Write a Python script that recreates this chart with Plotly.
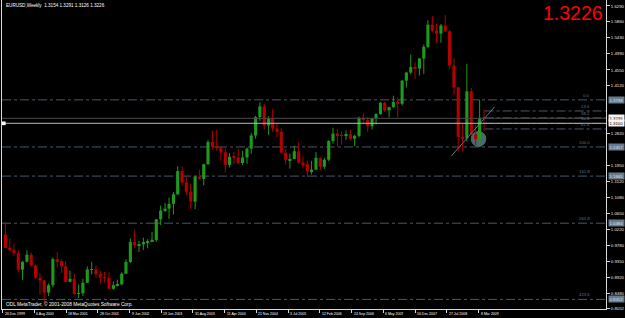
import plotly.graph_objects as go

# ---------------- data (monthly OHLC) ----------------
opens = [
    1.0073, 0.9710, 0.9650, 0.9572, 0.9120, 0.9335, 0.9525, 0.9235, 0.8900, 0.8830, 0.8500, 0.8700,
    0.9405, 0.9352, 0.9210, 0.8790, 0.8870, 0.8463, 0.8480, 0.8765, 0.9125, 0.9125, 0.9000, 0.8910,
    0.8900, 0.8600, 0.8700, 0.8720, 0.9010, 0.9330, 0.9870, 0.9790, 0.9810, 0.9870, 0.9880, 0.9930,
    1.0490, 1.0730, 1.0780, 1.0910, 1.1170, 1.1800, 1.1490, 1.1240, 1.0970, 1.1650, 1.1590, 1.1990,
    1.2590, 1.2460, 1.2440, 1.2310, 1.1970, 1.2190, 1.2170, 1.2020, 1.2170, 1.2410, 1.2770, 1.3270,
    1.3560, 1.3040, 1.3240, 1.2960, 1.2870, 1.2300, 1.2100, 1.2130, 1.2340, 1.2030, 1.1990, 1.1800,
    1.1840, 1.2160, 1.1920, 1.2110, 1.2620, 1.2820, 1.2780, 1.2760, 1.2800, 1.2680, 1.2760, 1.3250,
    1.3190, 1.3020, 1.3230, 1.3350, 1.3660, 1.3450, 1.3540, 1.3680, 1.3630, 1.4260, 1.4480, 1.4630,
    1.4590, 1.4860, 1.5180, 1.5780, 1.5620, 1.5540, 1.5760, 1.5600, 1.4670, 1.4080, 1.2730, 1.2690,
    1.3970, 1.2800, 1.2670, 1.3250,
]
highs = [
    1.0414, 0.9956, 0.9815, 0.9650, 0.9352, 0.9650, 0.9585, 0.9260, 0.9018, 0.8830, 0.8745, 0.9455,
    0.9593, 0.9400, 0.9355, 0.9094, 0.9009, 0.8720, 0.8873, 0.9210, 0.9330, 0.9230, 0.9090, 0.9060,
    0.9050, 0.8800, 0.8850, 0.9050, 0.9400, 0.9970, 1.0190, 0.9900, 0.9990, 0.9950, 1.0150, 1.0500,
    1.0860, 1.0930, 1.1080, 1.1230, 1.1930, 1.1930, 1.1650, 1.1450, 1.1680, 1.1840, 1.2000, 1.2650,
    1.2900, 1.2930, 1.2460, 1.2420, 1.2290, 1.2320, 1.2410, 1.2350, 1.2440, 1.2840, 1.3300, 1.3670,
    1.3620, 1.3290, 1.3480, 1.3100, 1.2970, 1.2400, 1.2270, 1.2490, 1.2590, 1.2200, 1.2090, 1.2080,
    1.2320, 1.2170, 1.2160, 1.2640, 1.2980, 1.2950, 1.2880, 1.2910, 1.2930, 1.2790, 1.3280, 1.3370,
    1.3270, 1.3250, 1.3380, 1.3680, 1.3690, 1.3550, 1.3850, 1.3800, 1.4280, 1.4500, 1.4970, 1.4760,
    1.4880, 1.5240, 1.5900, 1.6020, 1.5810, 1.5800, 1.6040, 1.5630, 1.4870, 1.4080, 1.3080, 1.4720,
    1.4060, 1.3050, 1.3740, 1.3480,
]
lows = [
    0.9704, 0.9610, 0.9494, 0.9050, 0.8844, 0.9320, 0.9200, 0.8868, 0.8444, 0.8228, 0.8400, 0.8640,
    0.9182, 0.9034, 0.8768, 0.8780, 0.8440, 0.8350, 0.8405, 0.8760, 0.8990, 0.8900, 0.8750, 0.8770,
    0.8580, 0.8570, 0.8660, 0.8700, 0.9000, 0.9300, 0.9720, 0.9600, 0.9660, 0.9700, 0.9870, 0.9880,
    1.0330, 1.0690, 1.0500, 1.0620, 1.1150, 1.1410, 1.1140, 1.0760, 1.0770, 1.1580, 1.1410, 1.1970,
    1.2380, 1.2360, 1.2080, 1.1760, 1.1900, 1.1990, 1.1990, 1.1960, 1.2000, 1.2270, 1.2680, 1.3170,
    1.2930, 1.2780, 1.2870, 1.2720, 1.2300, 1.1980, 1.1870, 1.2140, 1.1990, 1.1910, 1.1640, 1.1710,
    1.1820, 1.1830, 1.1860, 1.2070, 1.2550, 1.2460, 1.2520, 1.2650, 1.2640, 1.2480, 1.2720, 1.3090,
    1.2870, 1.2930, 1.3070, 1.3330, 1.3410, 1.3260, 1.3520, 1.3260, 1.3580, 1.4070, 1.4430, 1.4310,
    1.4400, 1.4440, 1.5140, 1.5570, 1.5280, 1.5290, 1.5580, 1.4580, 1.3880, 1.2330, 1.2330, 1.2600,
    1.2770, 1.2510, 1.2460, 1.2890,
]
closes = [
    0.9710, 0.9650, 0.9572, 0.9120, 0.9335, 0.9525, 0.9235, 0.8900, 0.8830, 0.8500, 0.8700, 0.9405,
    0.9352, 0.9210, 0.8790, 0.8870, 0.8463, 0.8480, 0.8765, 0.9125, 0.9125, 0.9000, 0.8910, 0.8900,
    0.8600, 0.8700, 0.8720, 0.9010, 0.9330, 0.9870, 0.9790, 0.9810, 0.9870, 0.9880, 0.9930, 1.0490,
    1.0730, 1.0780, 1.0910, 1.1170, 1.1800, 1.1490, 1.1240, 1.0970, 1.1650, 1.1590, 1.1990, 1.2590,
    1.2460, 1.2440, 1.2310, 1.1970, 1.2190, 1.2170, 1.2020, 1.2170, 1.2410, 1.2770, 1.3270, 1.3560,
    1.3040, 1.3240, 1.2960, 1.2870, 1.2300, 1.2100, 1.2130, 1.2340, 1.2030, 1.1990, 1.1800, 1.1840,
    1.2160, 1.1920, 1.2110, 1.2620, 1.2820, 1.2780, 1.2760, 1.2800, 1.2680, 1.2760, 1.3250, 1.3190,
    1.3020, 1.3230, 1.3350, 1.3660, 1.3450, 1.3540, 1.3680, 1.3630, 1.4260, 1.4480, 1.4630, 1.4590,
    1.4860, 1.5180, 1.5780, 1.5620, 1.5540, 1.5760, 1.5600, 1.4670, 1.4080, 1.2730, 1.2690, 1.3970,
    1.2800, 1.2670, 1.3250, 1.3226,
]
start_year = 2000
months = [f"{start_year + i // 12}-{i % 12 + 1:02d}-15" for i in range(len(opens))]

date_ticks = ['1999-12-26', '2000-08-06', '2001-03-18', '2001-10-28', '2002-06-09', '2003-01-19',
              '2003-08-31', '2004-04-11', '2004-11-21', '2005-07-03', '2006-02-12', '2006-09-24',
              '2007-05-06', '2007-12-16', '2008-07-27', '2009-03-08']
date_labels = ['26 Dec 1999', '6 Aug 2000', '18 Mar 2001', '28 Oct 2001', '9 Jun 2002', '19 Jan 2003',
               '31 Aug 2003', '11 Apr 2004', '21 Nov 2004', '3 Jul 2005', '12 Feb 2006', '24 Sep 2006',
               '6 May 2007', '16 Dec 2007', '27 Jul 2008', '8 Mar 2009']
price_ticks = [1.6290, 1.5860, 1.5430, 1.4990, 1.4550, 1.4120, 1.2820, 1.1950,
               1.1520, 1.1080, 1.0650, 1.0220, 0.9780, 0.9350, 0.8920, 0.8480, 0.8052]

fib_high = 1.3738
fib_low = 1.2457
fib_levels = [0.0, 23.6, 38.2, 50.0, 61.8, 100.0, 161.8, 261.8, 423.6]
fib_full_width = [0.0, 100.0, 161.8, 261.8, 423.6]
fib_short_start = '2009-04-19'

bid_price = 1.3236
hline_price = 1.3100
last_close = 1.3226
title_text = "EURUSD,Weekly  1.3154 1.3291 1.3126 1.3226"
copyright_text = "ODL MetaTrader, © 2001-2008 MetaQuotes Software Corp."

trend_dates = ['2008-08-28', '2009-06-28']
trend_prices = [1.2212, 1.3544]
circle_dates = ['2009-01-15', '2009-04-28']
circle_prices = [1.2470, 1.2880]

x_range = ['1999-12-22', '2011-08-24']
y_range = [0.8051, 1.6453]

# ---------------- figure ----------------
UP = '#1f9a1f'
DOWN = '#b40000'
FIB = '#44596b'
FONT = 'Liberation Sans'
BODY_MS = 22 * 24 * 3600 * 1000  # candle body width in ms

fig = go.Figure()
for is_up, col in ((True, UP), (False, DOWN)):
    idx = [i for i in range(len(opens)) if (closes[i] >= opens[i]) == is_up]
    wx, wy = [], []
    for i in idx:
        wx += [months[i], months[i], None]
        wy += [lows[i], highs[i], None]
    fig.add_trace(go.Scatter(x=wx, y=wy, mode='lines', line=dict(color=col, width=1),
                             hoverinfo='skip', showlegend=False))
    fig.add_trace(go.Bar(
        x=[months[i] for i in idx],
        base=[min(opens[i], closes[i]) for i in idx],
        y=[max(abs(closes[i] - opens[i]), 0.0008) for i in idx],
        width=BODY_MS, marker=dict(color=col, line=dict(width=0)),
        hoverinfo='skip', showlegend=False))

shapes = []
annotations = []

# circle and trend line
shapes.append(dict(type='circle', xref='x', yref='y', x0=circle_dates[0], x1=circle_dates[1],
                   y0=circle_prices[0], y1=circle_prices[1], fillcolor='#4a6a6a',
                   line=dict(color='#4a6a6a', width=1), layer='below'))
shapes.append(dict(type='line', xref='x', yref='y', x0=trend_dates[0], x1=trend_dates[1],
                   y0=trend_prices[0], y1=trend_prices[1], line=dict(color='#5c7486', width=1)))

# fib levels
for lvl in fib_levels:
    price = fib_high - (fib_high - fib_low) * lvl / 100.0
    if lvl in fib_full_width:
        shapes.append(dict(type='line', xref='paper', yref='y', x0=0, x1=1, y0=price, y1=price,
                           line=dict(color=FIB, width=1, dash='dashdot'), layer='below'))
        annotations.append(dict(xref='paper', yref='y', x=1, y=price, xanchor='left', yanchor='middle',
                                xshift=2, text=f"{price:.4f}", showarrow=False,
                                font=dict(family=FONT, size=4.3, color='#dde4ea'),
                                bgcolor='#687a8c', borderpad=0.5))
    else:
        shapes.append(dict(type='line', xref='x', yref='y', x0=fib_short_start, x1=x_range[1],
                           y0=price, y1=price, line=dict(color=FIB, width=1, dash='dashdot'),
                           layer='below'))
    annotations.append(dict(xref='paper', yref='y', x=0.977, y=price, xanchor='right',
                            yanchor='bottom', text=f"{lvl:.1f}", showarrow=False,
                            font=dict(family=FONT, size=4.3, color='#5f7588')))

# horizontal lines
shapes.append(dict(type='line', xref='paper', yref='y', x0=0, x1=1, y0=bid_price, y1=bid_price,
                   line=dict(color='#4a4a4a', width=1)))
shapes.append(dict(type='line', xref='paper', yref='y', x0=0, x1=1, y0=hline_price, y1=hline_price,
                   line=dict(color='#b8b8b8', width=1)))
shapes.append(dict(type='rect', xref='paper', yref='y', x0=0, x1=0.006,
                   y0=hline_price - 0.005, y1=hline_price + 0.005, fillcolor='#ffffff',
                   line=dict(width=0)))
for p in (bid_price, hline_price):
    annotations.append(dict(xref='paper', yref='y', x=1, y=p, xanchor='left', yanchor='middle',
                            xshift=2, text=f"{p:.4f}", showarrow=False,
                            font=dict(family=FONT, size=4.3, color='#000000'),
                            bgcolor='#f4f4f4', borderpad=0.5))

# date labels
for d, lab in zip(date_ticks, date_labels):
    annotations.append(dict(xref='x', yref='paper', x=d, y=0, xanchor='left', yanchor='middle',
                            yshift=-4.5, text=lab, showarrow=False,
                            font=dict(family=FONT, size=3.5, color='#ffffff')))

# title, copyright, big price
annotations.append(dict(xref='paper', yref='paper', x=0, y=1, xanchor='left', yanchor='middle',
                        xshift=2, yshift=-5, text=title_text, showarrow=False,
                        font=dict(family=FONT, size=4.6, color='#ffffff')))
annotations.append(dict(xref='paper', yref='paper', x=0, y=0, xanchor='left', yanchor='middle',
                        xshift=2, yshift=5, text=copyright_text, showarrow=False,
                        font=dict(family=FONT, size=4.8, color='#ffffff')))
annotations.append(dict(xref='paper', yref='paper', x=1, y=1, xanchor='right', yanchor='middle',
                        xshift=-1, yshift=-13, text=f"{last_close:.4f}", showarrow=False,
                        font=dict(family=FONT, size=19.5, color='#ff0000')))

fig.update_layout(
    width=625, height=318,
    margin=dict(l=2, r=19, t=0, b=9, pad=0),
    paper_bgcolor='#000000', plot_bgcolor='#000000',
    showlegend=False, barmode='overlay',
    shapes=shapes, annotations=annotations,
    xaxis=dict(type='date', range=x_range,
               showgrid=False, zeroline=False, showline=True, linecolor='#d8d8d8', linewidth=1,
               tickvals=date_ticks, showticklabels=False, ticks='outside', ticklen=3,
               tickcolor='#d8d8d8', tickwidth=1),
    yaxis=dict(side='right', range=y_range, showgrid=False, zeroline=False,
               showline=True, linecolor='#d8d8d8', linewidth=1, mirror=True,
               tickvals=price_ticks, ticktext=[f"{v:.4f}" for v in price_ticks],
               ticks='outside', ticklen=3, tickcolor='#d8d8d8', tickwidth=1,
               tickfont=dict(family=FONT, size=4.3, color='#e8e8e8')),
)

fig.write_html("out.html")
